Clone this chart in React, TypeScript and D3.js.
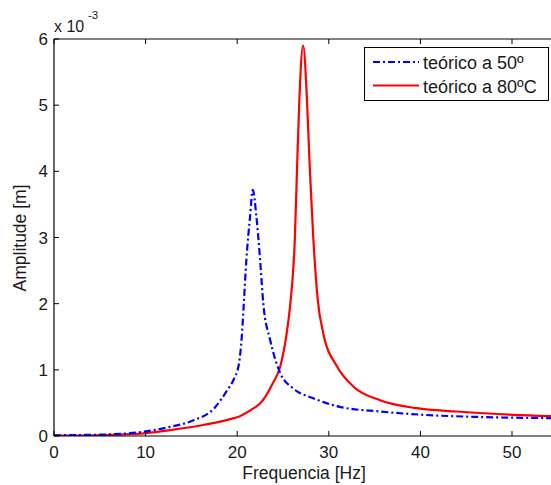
import React from "react";
import * as d3 from "d3";

const freq50 = [0, 3, 6.2, 9.8, 12.7, 15.3, 17.5, 18.9, 19.6, 20.2, 20.5, 20.7, 21.0, 21.4, 21.7, 22.1, 22.5, 22.85, 23.6, 24.7, 26.1, 28.3, 31.2, 35.6, 40.3, 45.8, 54.5];
const amp50 = [0.01, 0.015, 0.025, 0.065, 0.14, 0.24, 0.42, 0.69, 0.85, 1.1, 1.5, 1.95, 2.66, 3.31, 3.72, 3.31, 2.66, 2.0, 1.45, 0.95, 0.72, 0.57, 0.44, 0.37, 0.32, 0.29, 0.27];
const freq80 = [0, 5.5, 9.8, 12.7, 16.4, 19.65, 20.3, 21.8, 22.5, 23.9, 24.7, 25.4, 25.8, 26.3, 26.55, 26.8, 27.2, 27.6, 27.9, 28.3, 28.8, 29.4, 30.9, 32.7, 35.6, 39.6, 44.0, 50.1, 54.5];
const amp80 = [0.005, 0.015, 0.04, 0.09, 0.17, 0.27, 0.30, 0.42, 0.49, 0.80, 1.05, 1.55, 2.0, 3.01, 4.12, 5.13, 5.9, 5.13, 4.12, 3.01, 2.05, 1.55, 1.05, 0.745, 0.54, 0.42, 0.37, 0.32, 0.30];

const xTicks = [0, 10, 20, 30, 40, 50];
const yTicks = [0, 1, 2, 3, 4, 5, 6];
const seriesNames = ["teórico a 50º", "teórico a 80ºC"];

const W = 551, H = 485;
const L = 54, T = 39, B = 436;
const FONT = "'Liberation Sans', Arial, Helvetica, sans-serif";

export default function App() {
  const x = d3.scaleLinear().domain([0, 10]).range([L, L + 91.6]);
  const y = d3.scaleLinear().domain([0, 6]).range([B, T]);
  const line = d3.line<[number, number]>().x(d => x(d[0])).y(d => y(d[1])).curve(d3.curveMonotoneX);
  const d50 = line(freq50.map((f, i) => [f, amp50[i]] as [number, number])) || "";
  const d80 = line(freq80.map((f, i) => [f, amp80[i]] as [number, number])) || "";
  const R = W + 2;
  const dash = "7,3,2,3";
  return (
    <div style={{ position: "fixed", left: 0, top: 0, width: W, height: H, background: "#fff" }}>
      <svg width={W} height={H} style={{ display: "block" }} fontFamily={FONT}>
        <rect x={0} y={0} width={W} height={H} fill="#fff" />
        <defs>
          <clipPath id="plot">
            <rect x={L} y={T} width={R - L} height={B - T} />
          </clipPath>
        </defs>
        <g clipPath="url(#plot)">
          <path d={d80} fill="none" stroke="#ff0000" strokeWidth={2.2} strokeLinejoin="round" />
          <path d={d50} fill="none" stroke="#0000ff" strokeWidth={2.2} strokeDasharray={dash} />
        </g>
        <line x1={L} x2={R} y1={B} y2={B} stroke="#000" strokeWidth={1.2} />
        <line x1={L} x2={R} y1={T} y2={T} stroke="#000" strokeWidth={1.2} />
        <line x1={L} x2={L} y1={T} y2={B} stroke="#000" strokeWidth={1.2} />
        {xTicks.map(t => (
          <g key={"x" + t}>
            <line x1={x(t)} x2={x(t)} y1={B} y2={B - 5} stroke="#000" />
            <line x1={x(t)} x2={x(t)} y1={T} y2={T + 5} stroke="#000" />
            <text x={x(t)} y={B + 22} textAnchor="middle" fontSize={17} fill="#1a1a1a">{t}</text>
          </g>
        ))}
        {yTicks.map(t => (
          <g key={"y" + t}>
            <line x1={L} x2={L + 5} y1={y(t)} y2={y(t)} stroke="#000" />
            <text x={L - 6} y={y(t) + 6} textAnchor="end" fontSize={17} fill="#1a1a1a">{t}</text>
          </g>
        ))}
        <text x={54} y={32} fontSize={16} fill="#1a1a1a">x 10</text>
        <text x={88} y={19} fontSize={11.5} fill="#1a1a1a">-3</text>
        <text x={304} y={479} textAnchor="middle" fontSize={17.5} fill="#1a1a1a">Frequencia [Hz]</text>
        <text transform={`translate(26,238) rotate(-90)`} textAnchor="middle" fontSize={17.5} fill="#1a1a1a">Amplitude [m]</text>
        <rect x={364.5} y={47.5} width={184} height={53} fill="#fff" stroke="#000" strokeWidth={1} />
        <line x1={373} x2={419} y1={62} y2={62} stroke="#0000ff" strokeWidth={2} strokeDasharray={dash} />
        <line x1={373} x2={419} y1={85.5} y2={85.5} stroke="#ff0000" strokeWidth={2} />
        <text x={423} y={68.5} fontSize={18} fill="#1a1a1a">{seriesNames[0]}</text>
        <text x={423} y={92.5} fontSize={18} fill="#1a1a1a">{seriesNames[1]}</text>
      </svg>
    </div>
  );
}
